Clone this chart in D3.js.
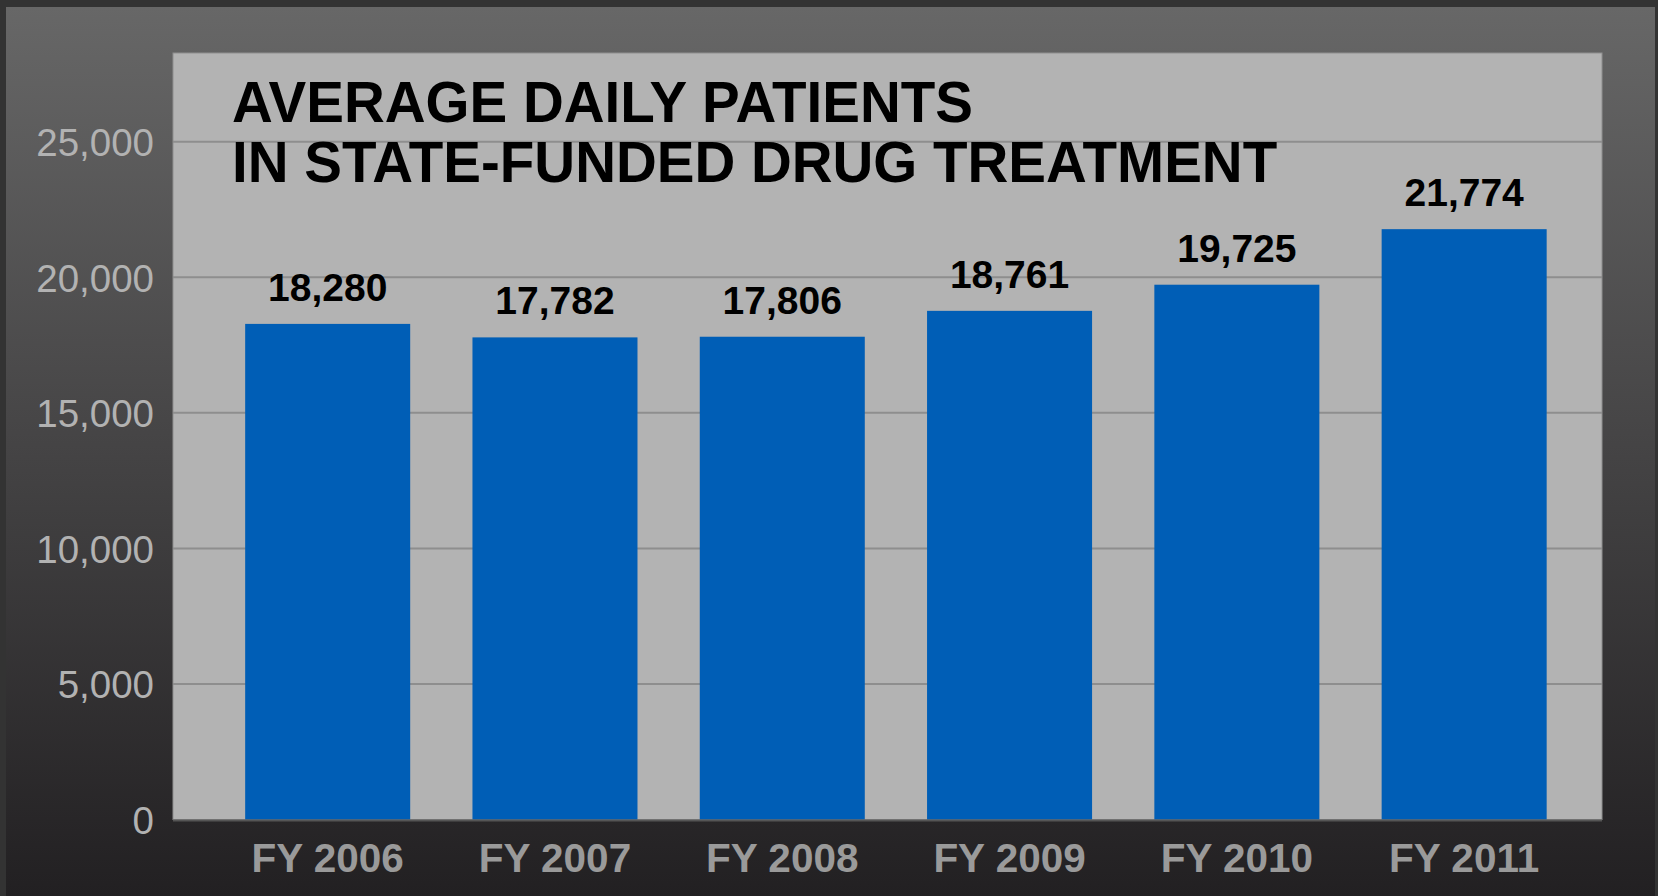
<!DOCTYPE html>
<html>
<head>
<meta charset="utf-8">
<script src="https://cdn.jsdelivr.net/npm/d3@7"></script>
<style>
  html, body { margin: 0; padding: 0; background: #333333; }
  svg { display: block; }
</style>
</head>
<body>
<svg id="chart" width="1658" height="896"></svg>
<script>
const categories = ["FY 2006", "FY 2007", "FY 2008", "FY 2009", "FY 2010", "FY 2011"];
const patients = [18280, 17782, 17806, 18761, 19725, 21774];
const yTicks = [0, 5000, 10000, 15000, 20000, 25000];
const titleLines = ["AVERAGE DAILY PATIENTS", "IN STATE-FUNDED DRUG TREATMENT"];

const W = 1658, H = 896;
const svg = d3.select("#chart");
const defs = svg.append("defs");

const bg = defs.append("linearGradient").attr("id", "bg").attr("x1", 0).attr("y1", 0).attr("x2", 0).attr("y2", 1);
bg.append("stop").attr("offset", "0%").attr("stop-color", "#676767");
bg.append("stop").attr("offset", "100%").attr("stop-color", "#222022");

svg.append("rect").attr("x", 0).attr("y", 0).attr("width", W).attr("height", H).attr("fill", "#333333");
svg.append("rect").attr("x", 6).attr("y", 7).attr("width", 1649).attr("height", H - 7).attr("fill", "url(#bg)");

const plot = { left: 173, right: 1602, top: 53, bottom: 819.5 };

const y = d3.scaleLinear().domain([0, 25000]).range([plot.bottom, 141.7]);
const x = d3.scaleBand().domain(categories).range([plot.left, plot.right])
  .paddingInner(0.274).paddingOuter(0.2805).align(0.566);

// plot background
svg.append("rect")
  .attr("x", plot.left).attr("y", plot.top)
  .attr("width", plot.right - plot.left).attr("height", plot.bottom - plot.top)
  .attr("fill", "#b3b3b3")
  .attr("stroke", "#8f8f8f").attr("stroke-width", 1);

// gridlines
svg.append("g").selectAll("line").data(yTicks.filter(d => d > 0)).join("line")
  .attr("x1", plot.left).attr("x2", plot.right)
  .attr("y1", d => y(d)).attr("y2", d => y(d))
  .attr("stroke", "#8e8e8e").attr("stroke-width", 2);

// y axis labels
const yAxis = d3.axisLeft(y).tickValues(yTicks).tickFormat(d3.format(",")).tickSize(0).tickPadding(0);
const yg = svg.append("g").attr("transform", `translate(154,0)`).call(yAxis);
yg.select(".domain").remove();
yg.selectAll("text")
  .attr("fill", "#b2b2b2")
  .style("font-family", "Liberation Sans, Arial, sans-serif")
  .style("font-size", "38.5px")
  .attr("dy", "0.36em");

// bars
svg.append("g").selectAll("rect").data(patients).join("rect")
  .attr("x", (d, i) => x(categories[i]))
  .attr("y", d => y(d))
  .attr("width", x.bandwidth())
  .attr("height", d => y(0) - y(d))
  .attr("fill", "#005eb6");

// axis line
svg.append("line")
  .attr("x1", plot.left).attr("x2", plot.right)
  .attr("y1", plot.bottom + 1).attr("y2", plot.bottom + 1)
  .attr("stroke", "#555555").attr("stroke-width", 2);

// value labels
svg.append("g").selectAll("text").data(patients).join("text")
  .attr("x", (d, i) => x(categories[i]) + x.bandwidth() / 2)
  .attr("y", d => y(d) - 23)
  .attr("text-anchor", "middle")
  .attr("fill", "#000")
  .style("font-family", "Liberation Sans, Arial, sans-serif")
  .style("font-weight", "bold")
  .style("font-size", "39px")
  .text(d => d3.format(",")(d));

// x axis labels
const xAxis = d3.axisBottom(x).tickSize(0).tickPadding(0);
const xg = svg.append("g").attr("transform", `translate(0,${plot.bottom})`).call(xAxis);
xg.select(".domain").remove();
xg.selectAll("text")
  .attr("fill", "#9a9a9a")
  .attr("y", 52)
  .attr("dy", 0)
  .style("font-family", "Liberation Sans, Arial, sans-serif")
  .style("font-weight", "bold")
  .style("font-size", "40.5px");

// title
svg.append("g").selectAll("text").data(titleLines).join("text")
  .attr("x", 232)
  .attr("y", (d, i) => 121.7 + i * 60)
  .attr("fill", "#000")
  .style("font-family", "Liberation Sans, Arial, sans-serif")
  .style("font-weight", "bold")
  .style("font-size", "56.5px")
  .text(d => d);
</script>
</body>
</html>
